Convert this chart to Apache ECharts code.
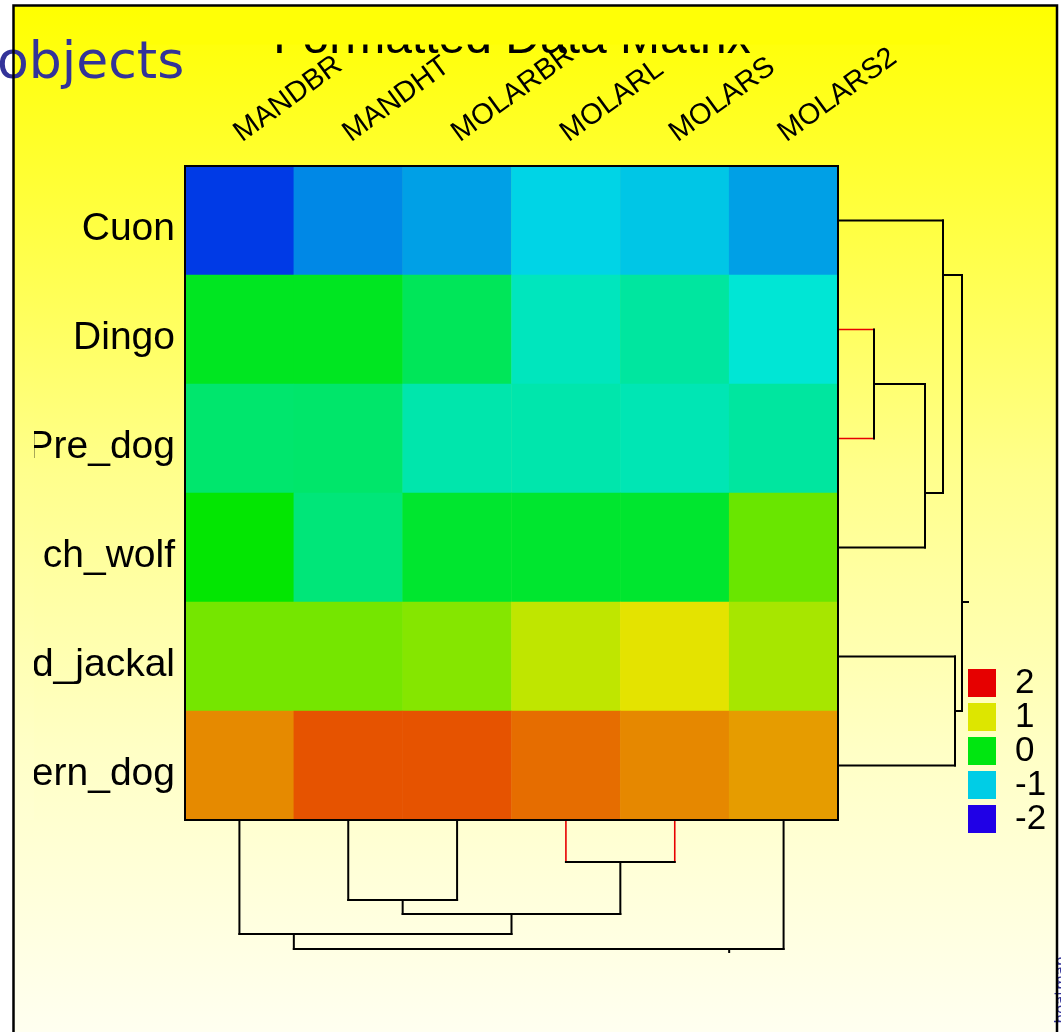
<!DOCTYPE html>
<html>
<head>
<meta charset="utf-8">
<script src="https://cdn.jsdelivr.net/npm/echarts@6/dist/echarts.min.js"></script>
<style>
  html, body { margin: 0; padding: 0; background: #fff; }
  #chart { width: 1061px; height: 1032px; }
</style>
</head>
<body>
<div id="chart"></div>
<script>
// data
const rowNames = ['Cuon', 'Dingo', 'Pre_dog', 'ch_wolf', 'd_jackal', 'ern_dog'];
const colNames = ['MANDBR', 'MANDHT', 'MOLARBR', 'MOLARL', 'MOLARS', 'MOLARS2'];
const zValues = [
    [-1.62, -1.29, -1.19, -0.97, -1.03, -1.19],
    [-0.07, -0.07, -0.31, -0.73, -0.60, -0.83],
    [-0.39, -0.38, -0.66, -0.66, -0.69, -0.60],
    [0.07, -0.44, -0.13, -0.13, -0.13, 0.51],
    [0.56, 0.56, 0.63, 0.87, 1.04, 0.77],
    [1.42, 1.65, 1.65, 1.54, 1.43, 1.34]
];
const legendValues = [2, 1, 0, -1, -2];

// dendrograms: [childA, childB, height, node position]; number = leaf index, 'mK' = merge K
const rowTree = [
    [1, 2, 1.8, 2.0],
    ['m0', 3, 4.35, 3.0],
    [0, 'm1', 5.25, 1.0],
    [4, 5, 5.85, 5.0],
    ['m2', 'm3', 6.2, 4.0]
];
const rowTreeTop = 6.5;
const colTree = [
    [3, 4, 2.1, 4.0],
    [1, 2, 4.0, 2.0],
    ['m1', 'm0', 4.7, 3.0],
    [0, 'm2', 5.7, 1.0],
    ['m3', 5, 6.45, 5.0]
];
const colTreeTop = 6.6;
const redMerges = [0];

// colour scale: hsv hue runs from blue (-2) to red (2)
function hsvColor(v) {
    v = Math.max(-2, Math.min(2, v));
    const h = (2 - v) * 62.1;
    const V = 0.9 * 255;
    const sector = h / 60;
    const f = sector - Math.floor(sector);
    let r, g, b;
    switch (Math.floor(sector) % 6) {
        case 0: r = V; g = V * f; b = 0; break;
        case 1: r = V * (1 - f); g = V; b = 0; break;
        case 2: r = 0; g = V; b = V * f; break;
        case 3: r = 0; g = V * (1 - f); b = V; break;
        default: r = V * f; g = 0; b = V; break;
    }
    return 'rgb(' + Math.round(r) + ',' + Math.round(g) + ',' + Math.round(b) + ')';
}
const colorStops = [];
for (let k = 0; k <= 80; k++) colorStops.push(hsvColor(-2 + k * 0.05));

const heatData = [];
zValues.forEach((row, i) => row.forEach((v, j) => heatData.push([j, i, v])));

function treeSegments(tree, top) {
    const node = c => typeof c === 'number' ? [0, c + 0.5] : [tree[+c.slice(1)][2], tree[+c.slice(1)][3]];
    const segs = [];
    tree.forEach((m, k) => {
        const red = redMerges.indexOf(k) >= 0 ? 1 : 0;
        const a = node(m[0]), b = node(m[1]);
        segs.push([a[0], a[1], m[2], a[1], red]);
        segs.push([b[0], b[1], m[2], b[1], red]);
        segs.push([m[2], a[1], m[2], b[1], 0]);
    });
    const root = tree[tree.length - 1];
    segs.push([root[2], root[3], top, root[3], 0]);
    return segs;
}

function dendroSeries(segs, idx, horizontal) {
    return {
        type: 'custom',
        xAxisIndex: idx,
        yAxisIndex: idx,
        silent: true,
        clip: false,
        z: 5,
        data: segs,
        encode: horizontal ? { x: [0, 2], y: [1, 3] } : { x: [1, 3], y: [0, 2] },
        renderItem(params, api) {
            const h1 = api.value(0), p1 = api.value(1), h2 = api.value(2), p2 = api.value(3);
            const red = api.value(4) === 1;
            const a = horizontal ? api.coord([h1, p1]) : api.coord([p1, h1]);
            const b = horizontal ? api.coord([h2, p2]) : api.coord([p2, h2]);
            return {
                type: 'line',
                shape: { x1: a[0], y1: a[1], x2: b[0], y2: b[1] },
                style: { stroke: red ? '#e80000' : '#000', lineWidth: red ? 1.6 : 2, lineCap: 'square' }
            };
        }
    };
}

const bgGradient = {
    type: 'linear', x: 0, y: 0, x2: 0, y2: 1,
    colorStops: [
        { offset: 0, color: '#ffff00' },
        { offset: 0.45, color: '#ffff8c' },
        { offset: 0.72, color: '#ffffc6' },
        { offset: 1, color: '#fffff2' }
    ]
};
// same ramp, restricted to the row label band (y 166..820)
const labelBandGradient = {
    type: 'linear', x: 0, y: 0, x2: 0, y2: 1,
    colorStops: [
        { offset: 0, color: '#ffff30' },
        { offset: 0.466, color: '#ffff8c' },
        { offset: 0.885, color: '#ffffc6' },
        { offset: 1, color: '#ffffd2' }
    ]
};

const chart = echarts.init(document.getElementById('chart'));

const graphics = [
    { type: 'rect', z: -10, shape: { x: 13.5, y: 5.5, width: 1043.5, height: 1040 }, style: { fill: bgGradient } },
    { type: 'text', z: 1, z2: 1, x: 512, y: 39.5,
      style: { text: 'Formatted Data Matrix', fontSize: 48, fontFamily: 'Liberation Sans',
               fill: '#000', align: 'center', verticalAlign: 'middle' } },
    { type: 'rect', z: 2, z2: 2, shape: { x: 150, y: 7, width: 800, height: 37.5 }, style: { fill: '#ffff06' } },
    { type: 'rect', z: 50, z2: 2, shape: { x: 14.8, y: 166, width: 19.2, height: 654 }, style: { fill: labelBandGradient } },
    { type: 'text', z: 6, x: -3, y: 64,
      style: { text: 'objects', fontSize: 52, fontFamily: 'DejaVu Sans', fill: '#333399', verticalAlign: 'middle' } },
    { type: 'text', z: 6, x: 1055, y: 990, rotation: Math.PI / 2,
      style: { text: 'heatmap', fontSize: 15, fontFamily: 'DejaVu Sans', fill: '#333399', align: 'center', verticalAlign: 'top' } },
    { type: 'rect', z: 10, shape: { x: 185, y: 166, width: 653, height: 654 }, style: { fill: 'none', stroke: '#000', lineWidth: 2 } },
    { type: 'rect', z: 60, shape: { x: 13.5, y: 5.5, width: 1043.5, height: 1040 }, style: { fill: 'none', stroke: '#000', lineWidth: 2.5 } }
];
legendValues.forEach((v, i) => {
    graphics.push({ type: 'rect', z: 6, shape: { x: 968, y: 669 + i * 34, width: 28, height: 28 }, style: { fill: hsvColor(v) } });
    graphics.push({ type: 'text', z: 6, x: 1015, y: 683 + i * 34,
        style: { text: String(v), fontSize: 35, fontFamily: 'Liberation Sans', fill: '#000', verticalAlign: 'middle' } });
});

const option = {
    animation: false,
    textStyle: { fontFamily: 'Liberation Sans' },
    grid: [
        { left: 185, top: 166, width: 653, height: 654 },
        { left: 183, top: 166, width: 653, height: 654 },
        { left: 838, top: 166, width: 132, height: 654 },
        { left: 185, top: 820, width: 653, height: 132 },
        { left: 185, top: 175, width: 653, height: 654 }
    ],
    xAxis: [
        { gridIndex: 0, type: 'category', data: colNames, axisLine: { show: false }, axisTick: { show: false }, axisLabel: { show: false } },
        { gridIndex: 1, type: 'category', data: colNames, position: 'top', axisLine: { show: false }, axisTick: { show: false },
          axisLabel: { interval: 0, rotate: 36, margin: 30, fontSize: 29, color: '#000', fontFamily: 'Liberation Sans' } },
        { gridIndex: 2, type: 'value', min: 0, max: 6.6, show: false },
        { gridIndex: 3, type: 'value', min: 0, max: 6, show: false },
        { gridIndex: 4, type: 'value', show: false }
    ],
    yAxis: [
        { gridIndex: 0, type: 'category', data: rowNames, inverse: true, show: false },
        { gridIndex: 1, type: 'value', show: false },
        { gridIndex: 2, type: 'value', min: 0, max: 6, inverse: true, show: false },
        { gridIndex: 3, type: 'value', min: 0, max: 6.6, inverse: true, show: false },
        { gridIndex: 4, type: 'category', data: rowNames, inverse: true, axisLine: { show: false }, axisTick: { show: false },
          axisLabel: { fontSize: 39, margin: 10, color: '#000', fontFamily: 'Liberation Sans', padding: [14, 0, 0, 0] } }
    ],
    visualMap: {
        show: false, type: 'continuous', min: -2, max: 2, dimension: 2, seriesIndex: 0,
        inRange: { color: colorStops }
    },
    series: [
        { type: 'heatmap', xAxisIndex: 0, yAxisIndex: 0, data: heatData, silent: true, itemStyle: { borderWidth: 0 } },
        dendroSeries(treeSegments(rowTree, rowTreeTop), 2, true),
        dendroSeries(treeSegments(colTree, colTreeTop), 3, false)
    ],
    graphic: { elements: graphics }
};

chart.setOption(option);
</script>
</body>
</html>
